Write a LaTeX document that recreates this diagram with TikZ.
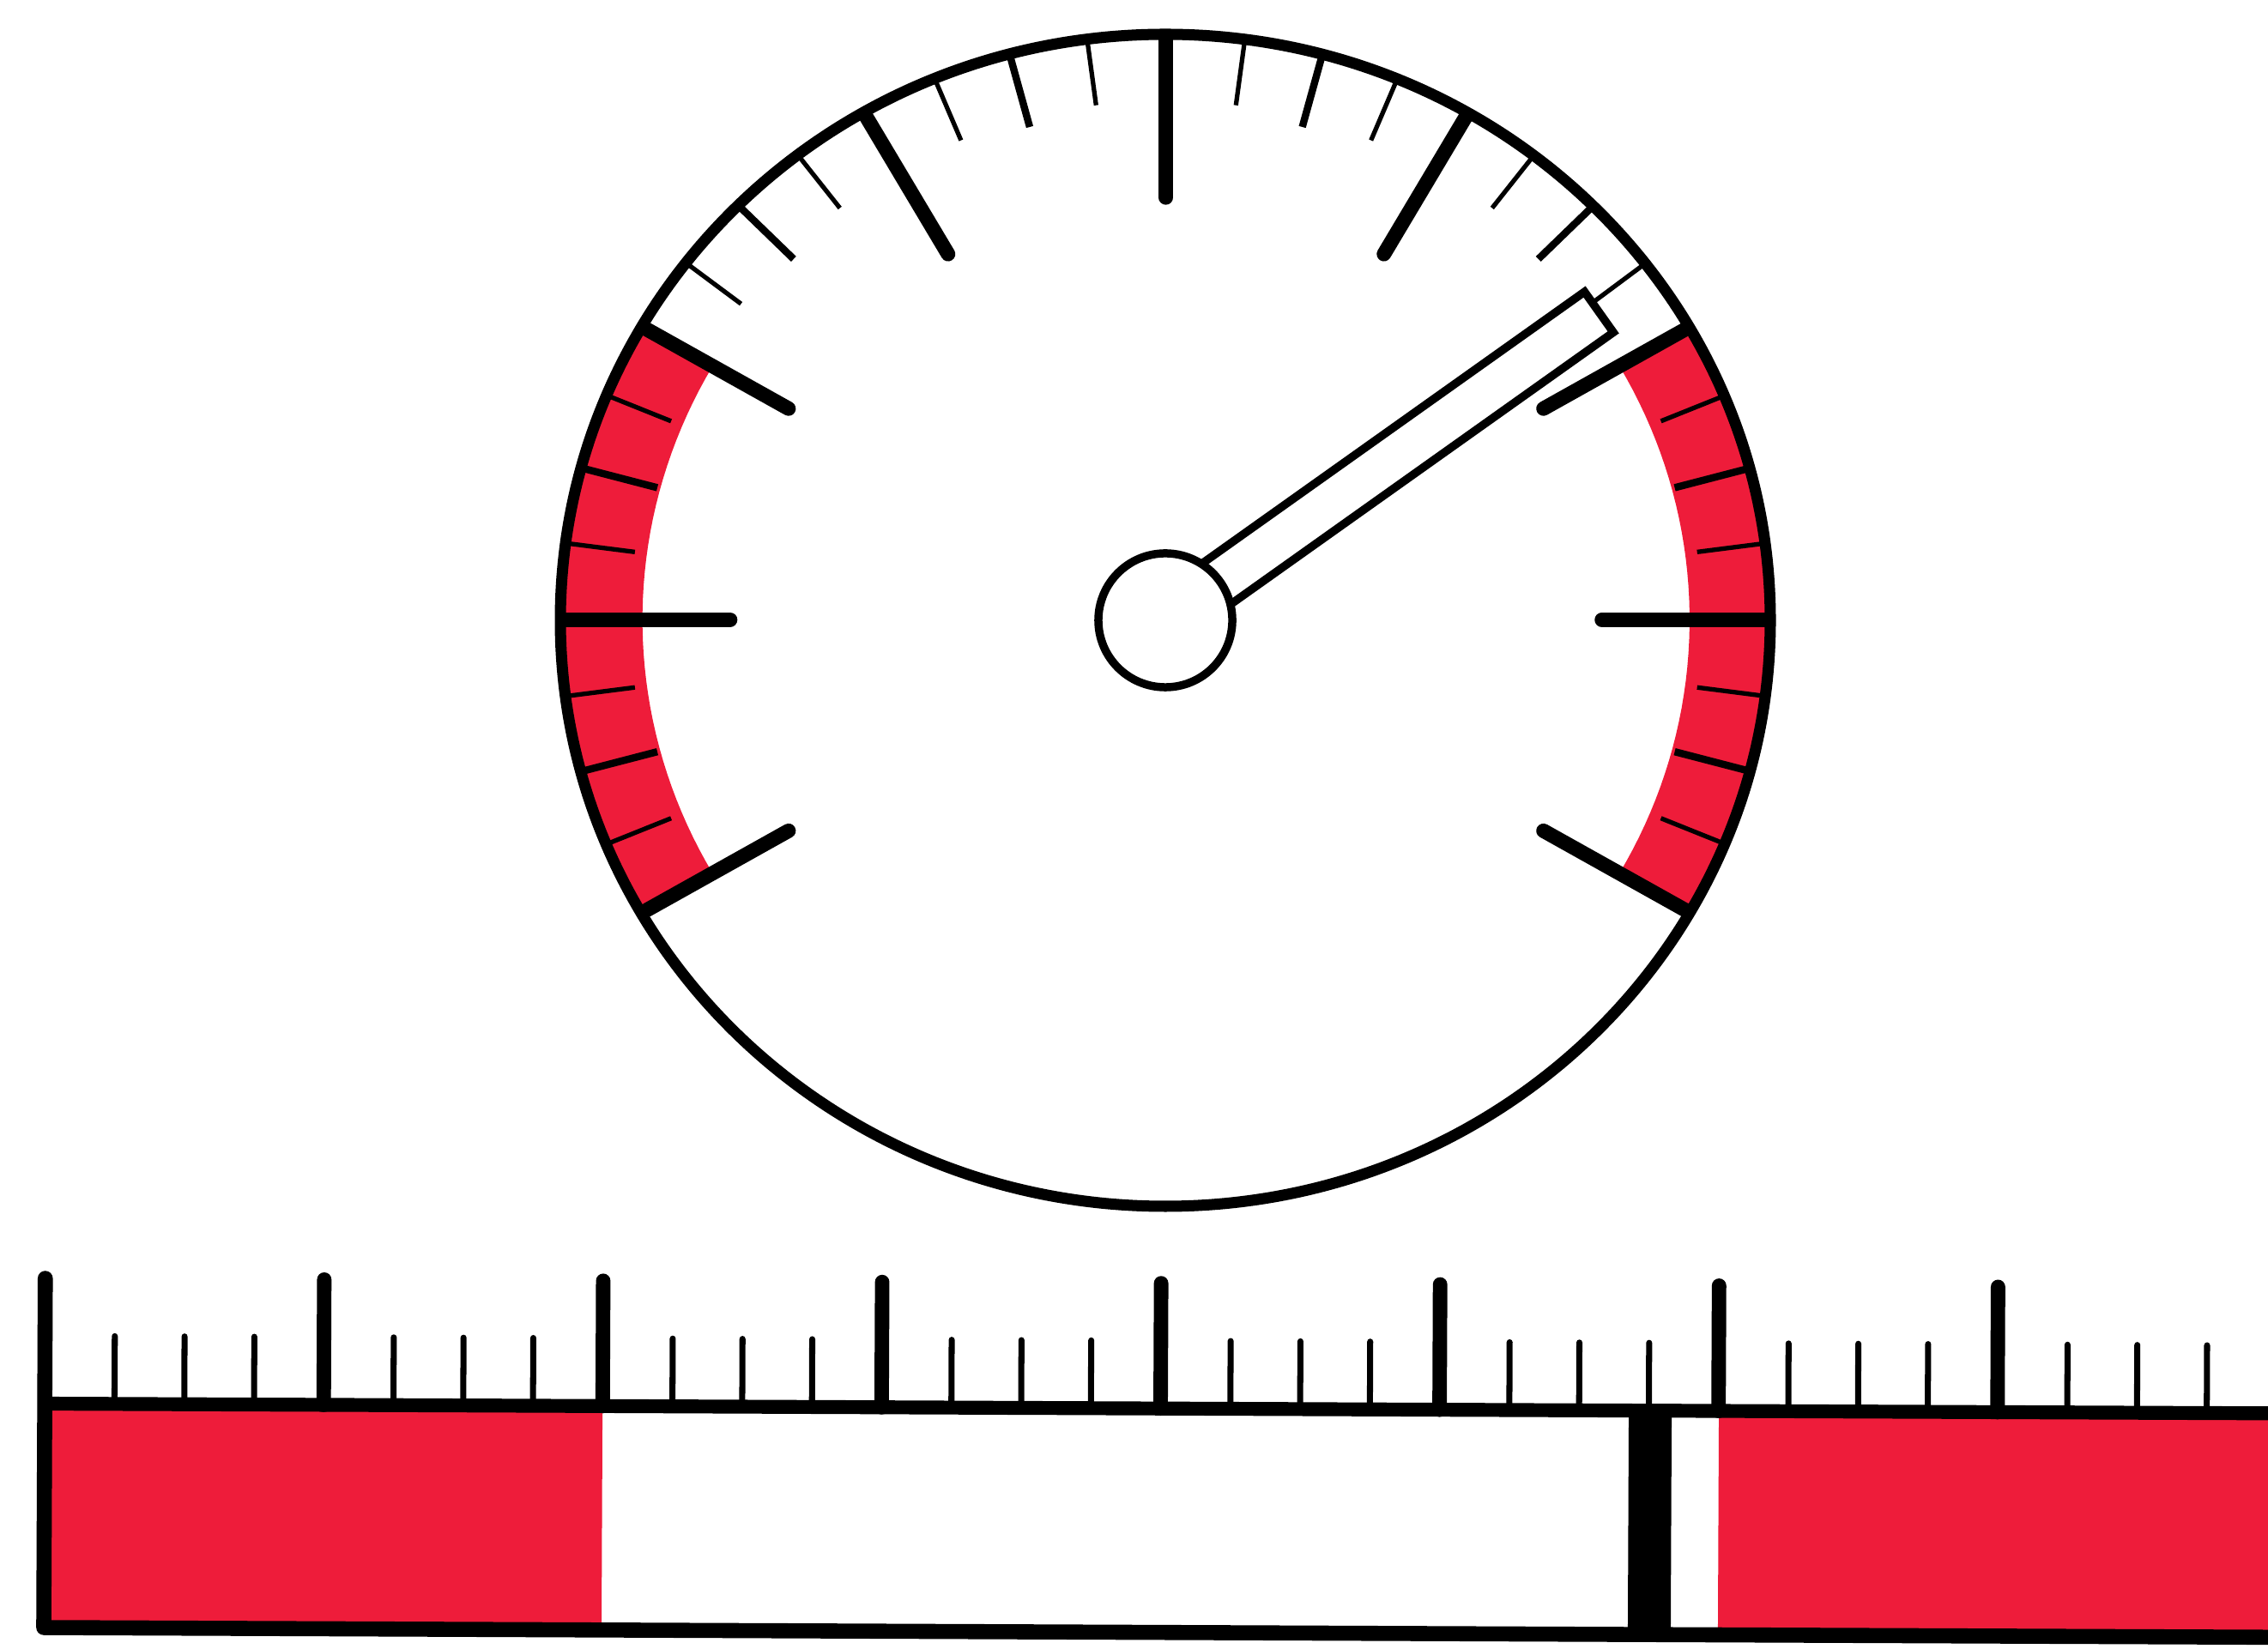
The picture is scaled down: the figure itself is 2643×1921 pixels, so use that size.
\documentclass[tikz,border=0pt]{standalone}
\usetikzlibrary{calc}
\definecolor{gred}{RGB}{238,28,58}
\tikzset{
  gmajor/.style={line width=4.8pt, line cap=round},
  gmedium/.style={line width=2.4pt},
  gthin/.style={line width=1.5pt},
  rim/.style={line width=3.7pt},
  needlestyle/.style={draw, fill=white, line width=2.7pt, line join=miter},
  hubstyle/.style={circle, draw, fill=white, line width=2.7pt, minimum size=1.56cm, inner sep=0pt},
  rline/.style={line width=4.6pt},
  rborder/.style={line width=5pt, line cap=round, line join=round},
  rmajor/.style={line width=4.8pt, line cap=round},
  rminor/.style={line width=2pt, line cap=round}
}
\begin{document}
\begin{tikzpicture}[x=0.01cm, y=0.01cm]
\useasboundingbox (0,0) rectangle (2643,1921);
\fill[white] (0,0) rectangle (2643,1921);
\clip (0,0) rectangle (2643,1921);

% ---------- gauge ----------
\coordinate (c) at (1358,1198);
\begin{scope}[shift={(13.58cm,11.98cm)}, x=7.05cm, y=6.83cm]
  \fill[gred] plot[domain=150:210, samples=40] (\x:1) -- plot[domain=210:150, samples=40] (\x:0.865) -- cycle;
  \fill[gred] plot[domain=-30:30, samples=40] (\x:1) -- plot[domain=30:-30, samples=40] (\x:0.865) -- cycle;
  \foreach \a in {-22.5,-7.5,...,203} \draw[gthin] (\a:1) -- (\a:0.885);
  \foreach \a in {-15,15,...,196} \draw[gmedium] (\a:1) -- (\a:0.87);
  \foreach \a in {-30,0,...,211} \draw[gmajor] (\a:0.99) -- (\a:0.72);
\end{scope}
\draw[rim] (c) ellipse [x radius=705, y radius=683];

% needle
\begin{scope}[shift={(13.58cm,11.98cm)}, rotate=35.4]
  \draw[needlestyle] (0,-29) rectangle (619,29);
\end{scope}
\node[hubstyle] (hub) at (c) {};

% ---------- linear scale ----------
\begin{scope}[rotate around={-0.25:(51,24)}]
  \fill[gred] (51,24) rectangle (701,285);
  \fill[gred] (2002,24) rectangle (2720,285);
  \fill[black] (1897,24) rectangle (1947,285);
  \draw[rline] (51,285) -- (2720,285);
  \draw[rborder] (51,431) -- (51,24) -- (2720,24);
  \foreach \k in {1,...,8} \draw[rmajor] ({51+325.1*\k},285) -- ++(0,146);
  \foreach \k in {0,...,7} \foreach \m in {1,2,3}
    \draw[rminor] ({51+325.1*\k+81.3*\m},285) -- ++(0,79);
\end{scope}
\end{tikzpicture}
\end{document}
